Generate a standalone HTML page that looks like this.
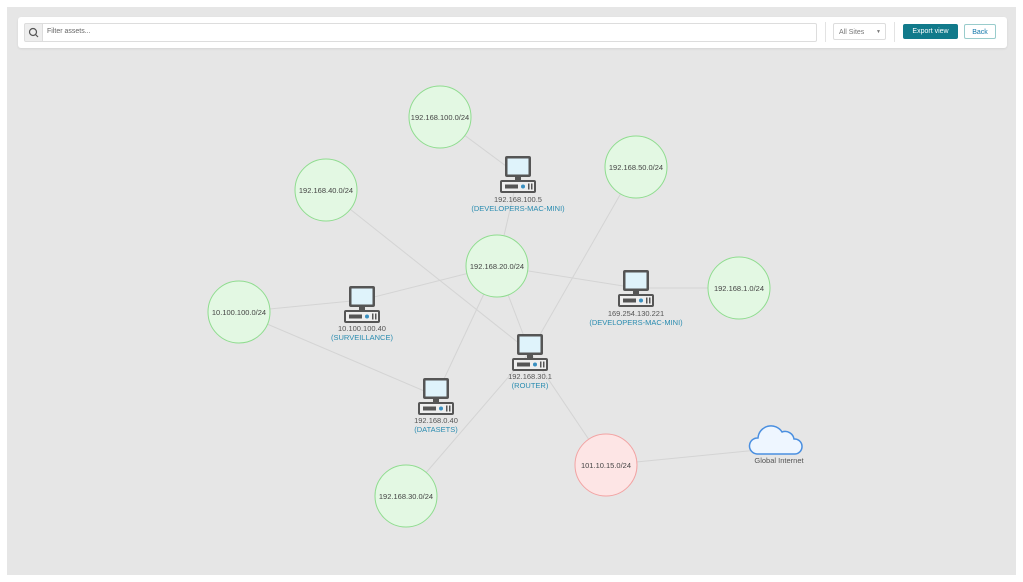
<!DOCTYPE html>
<html><head><style>
body{margin:0;width:1023px;height:582px;background:#fff;font-family:"Liberation Sans",sans-serif;overflow:hidden}
#f{position:absolute;left:7px;top:7px;width:1009px;height:568px;background:#e6e6e6}
#bar{position:absolute;left:18px;top:17px;width:989px;height:31px;background:#fff;border-radius:3px;box-shadow:0 1px 2px rgba(0,0,0,.08)}
svg{position:absolute;left:0;top:0}
</style></head><body>
<div id="f"></div>
<div id="bar">
<div style="position:absolute;left:6px;top:6px;width:17px;height:17px;background:#eee;border:1px solid #ddd;border-radius:2px 0 0 2px"></div>
<svg style="position:absolute;left:10px;top:10px" width="11" height="11"><circle cx="5" cy="5" r="3.5" fill="none" stroke="#555" stroke-width="1.2"/><line x1="7.5" y1="7.5" x2="10" y2="10" stroke="#555" stroke-width="1.2"/></svg>
<div style="position:absolute;left:23px;top:6px;width:775px;height:17px;border:1px solid #ddd;border-left:none;border-radius:0 2px 2px 0"></div>
<div style="position:absolute;left:29px;top:11px;font-size:7px;color:#666">Filter assets...</div>
<div style="position:absolute;left:807px;top:5px;width:1px;height:20px;background:#e3e3e3"></div>
<div style="position:absolute;left:815px;top:6px;width:53px;height:17px;border:1px solid #ddd;border-radius:2px;font-size:7px;color:#777;line-height:17px;padding-left:5px;box-sizing:border-box">All Sites <span style="float:right;margin-right:4px;font-size:5px">▼</span></div>
<div style="position:absolute;left:876px;top:5px;width:1px;height:20px;background:#e3e3e3"></div>
<div style="position:absolute;left:885px;top:7px;width:55px;height:15px;background:#117a8b;border-radius:2px;color:#fff;font-size:7px;text-align:center;line-height:15px">Export view</div>
<div style="position:absolute;left:946px;top:7px;width:32px;height:15px;border:1px solid #9cc;border-radius:2px;color:#17a;font-size:7px;text-align:center;line-height:15px;box-sizing:border-box">Back</div>
</div>
<svg width="1023" height="582" font-family="Liberation Sans, sans-serif">
<defs>
<g id="pc">
<rect x="-13" y="-20" width="26" height="21" rx="2" fill="#555"/>
<rect x="-10.5" y="-17.5" width="21" height="16" fill="#dff3fb"/>
<rect x="-3" y="1" width="6" height="3" fill="#555"/>
<rect x="-18" y="4" width="36" height="13" rx="2" fill="#555"/>
<rect x="-16" y="6" width="32" height="9" fill="#eee"/>
<rect x="-13" y="8.5" width="13" height="4" fill="#555"/>
<circle cx="5" cy="10.5" r="2" fill="#3a8fc0"/>
<rect x="10" y="7.5" width="1.5" height="6" fill="#555"/><rect x="13" y="7.5" width="1.5" height="6" fill="#555"/>
</g>
</defs>
<g stroke="#d4d4d4" stroke-width="1">
<line x1="440" y1="117" x2="518" y2="175"/>
<line x1="518" y1="175" x2="497" y2="266"/>
<line x1="326" y1="190" x2="530" y2="352"/>
<line x1="636" y1="167" x2="530" y2="352"/>
<line x1="497" y1="266" x2="362" y2="300"/>
<line x1="497" y1="266" x2="636" y2="288"/>
<line x1="636" y1="288" x2="739" y2="288"/>
<line x1="497" y1="266" x2="530" y2="352"/>
<line x1="497" y1="266" x2="436" y2="396"/>
<line x1="239" y1="312" x2="362" y2="300"/>
<line x1="239" y1="312" x2="436" y2="396"/>
<line x1="406" y1="496" x2="530" y2="352"/>
<line x1="530" y1="352" x2="606" y2="465"/>
<line x1="606" y1="465" x2="778" y2="448"/>
</g>
<g stroke="#8fdc8f" stroke-width="1" fill="#e3f8e3">
<circle cx="440" cy="117" r="31"/><circle cx="326" cy="190" r="31"/><circle cx="636" cy="167" r="31"/>
<circle cx="497" cy="266" r="31"/><circle cx="739" cy="288" r="31"/><circle cx="239" cy="312" r="31"/>
<circle cx="406" cy="496" r="31"/>
<circle cx="606" cy="465" r="31" fill="#fde5e5" stroke="#f2a3a3"/>
</g>
<g font-size="7.5" fill="#444" text-anchor="middle">
<text x="440" y="120">192.168.100.0/24</text><text x="326" y="193">192.168.40.0/24</text>
<text x="636" y="170">192.168.50.0/24</text><text x="497" y="269">192.168.20.0/24</text>
<text x="739" y="291">192.168.1.0/24</text><text x="239" y="315">10.100.100.0/24</text>
<text x="406" y="499">192.168.30.0/24</text><text x="606" y="468">101.10.15.0/24</text>
</g>
<use href="#pc" x="518" y="176"/><use href="#pc" x="362" y="306"/><use href="#pc" x="636" y="290"/>
<use href="#pc" x="530" y="354"/><use href="#pc" x="436" y="398"/>
<g font-size="7.5" text-anchor="middle">
<text x="518" y="202" fill="#555">192.168.100.5</text><text x="518" y="211" fill="#2a8cb0">(DEVELOPERS-MAC-MINI)</text>
<text x="362" y="331" fill="#555">10.100.100.40</text><text x="362" y="340" fill="#2a8cb0">(SURVEILLANCE)</text>
<text x="636" y="316" fill="#555">169.254.130.221</text><text x="636" y="325" fill="#2a8cb0">(DEVELOPERS-MAC-MINI)</text>
<text x="530" y="379" fill="#555">192.168.30.1</text><text x="530" y="388" fill="#2a8cb0">(ROUTER)</text>
<text x="436" y="423" fill="#555">192.168.0.40</text><text x="436" y="432" fill="#2a8cb0">(DATASETS)</text>
<text x="779" y="463" fill="#555">Global Internet</text>
</g>
<path d="M757 454 a8 8 0 0 1 1-16 a13 13 0 0 1 24-6 a9 9 0 0 1 12 7 a7.5 7.5 0 0 1 1 15 z" fill="#eef6ff" stroke="#4a8fe0" stroke-width="1.5"/>
</svg>
</body></html>
